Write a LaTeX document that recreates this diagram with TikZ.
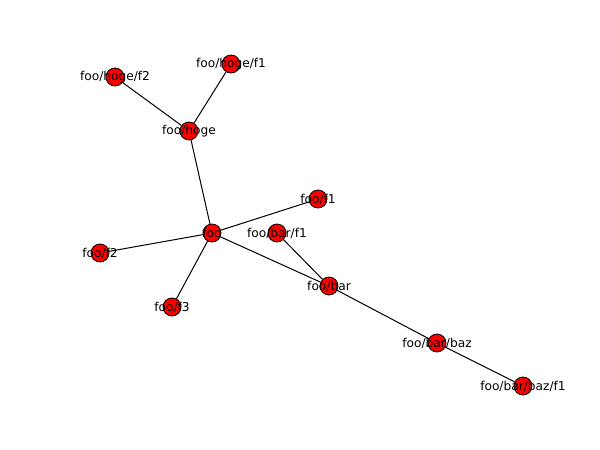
\documentclass[tikz,border=0pt]{standalone}
\usepackage{fontspec}
\setmainfont{DejaVu Sans}
\begin{document}
\begin{tikzpicture}[x=1pt,y=-1pt,
  vert/.style={circle,draw=black,fill=red,line width=0.8pt,minimum size=18pt,inner sep=0pt},
  lbl/.style={font=\fontsize{12.2}{14}\selectfont,inner sep=0pt,text=black},
  edge/.style={draw=black,line width=1pt}]
\useasboundingbox (0,0) rectangle (600,450);
\node[vert] (hf2) at (115,77) {};
\node[vert] (hf1) at (231,64) {};
\node[vert] (h) at (189,131) {};
\node[vert] (f1) at (318,199) {};
\node[vert] (foo) at (212,233) {};
\node[vert] (bf1) at (277,233) {};
\node[vert] (f2) at (100,253) {};
\node[vert] (bar) at (329,286) {};
\node[vert] (f3) at (172,307) {};
\node[vert] (baz) at (437,343) {};
\node[vert] (bazf1) at (523,386) {};
\draw[edge] (hf2) -- (h);
\draw[edge] (hf1) -- (h);
\draw[edge] (h) -- (foo);
\draw[edge] (foo) -- (f1);
\draw[edge] (foo) -- (f2);
\draw[edge] (foo) -- (f3);
\draw[edge] (foo) -- (bar);
\draw[edge] (bf1) -- (bar);
\draw[edge] (bar) -- (baz);
\draw[edge] (baz) -- (bazf1);
\node[lbl] (lhf2) at (hf2) {foo/hoge/f2};
\node[lbl] (lhf1) at (hf1) {foo/hoge/f1};
\node[lbl] (lh) at (h) {foo/hoge};
\node[lbl] (lf1) at (f1) {foo/f1};
\node[lbl] (lfoo) at (foo) {foo};
\node[lbl] (lbf1) at (bf1) {foo/bar/f1};
\node[lbl] (lf2) at (f2) {foo/f2};
\node[lbl] (lbar) at (bar) {foo/bar};
\node[lbl] (lf3) at (f3) {foo/f3};
\node[lbl] (lbaz) at (baz) {foo/bar/baz};
\node[lbl] (lbazf1) at (bazf1) {foo/bar/baz/f1};
\end{tikzpicture}
\end{document}
